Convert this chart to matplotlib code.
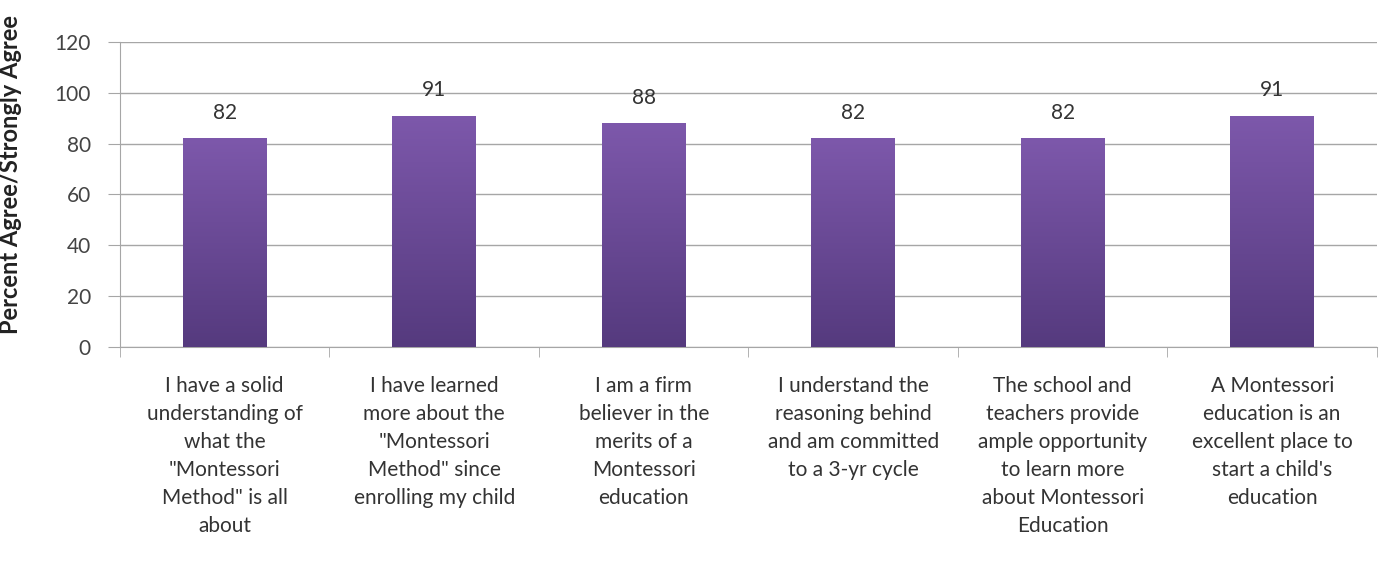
import numpy as np
import matplotlib
matplotlib.use('Agg')
import matplotlib.pyplot as plt
from matplotlib.colors import LinearSegmentedColormap

categories = [
    'I have a solid\nunderstanding of\nwhat the\n"Montessori\nMethod" is all\nabout',
    'I have learned\nmore about the\n"Montessori\nMethod" since\nenrolling my child',
    'I am a firm\nbeliever in the\nmerits of a\nMontessori\neducation',
    'I understand the\nreasoning behind\nand am committed\nto a 3-yr cycle',
    'The school and\nteachers provide\nample opportunity\nto learn more\nabout Montessori\nEducation',
    'A Montessori\neducation is an\nexcellent place to\nstart a child\'s\neducation',
]
values = [82, 91, 88, 82, 82, 91]
yticks = [0, 20, 40, 60, 80, 100, 120]

plt.rcParams['font.family'] = ['Lato', 'DejaVu Sans']

fig = plt.figure(figsize=(13.79, 5.65), dpi=100)
ax = fig.add_axes([0.087, 0.386, 0.9115, 0.54])

x = np.arange(len(values))
bars = ax.bar(x, values, width=0.4, color='#6a4a96', zorder=2)

# vertical gradient inside each bar
cmap = LinearSegmentedColormap.from_list('purp', ['#553a7e', '#7d58ab'])
grad = np.linspace(0, 1, 256).reshape(-1, 1)
for b in bars:
    bx, by = b.get_x(), b.get_y()
    w, h = b.get_width(), b.get_height()
    im = ax.imshow(grad, cmap=cmap, origin='lower', aspect='auto',
                   extent=[bx, bx + w, by, by + h], zorder=3)
    im.set_clip_path(b)

for xi, v in zip(x, values):
    ax.text(xi, v + 6, str(v), ha='center', va='bottom', fontsize=15, color='#333333')

ax.set_xlim(-0.5, len(values) - 0.5)
ax.set_ylim(0, 120)
ax.set_yticks(yticks)
ax.yaxis.grid(True, color='#a6a6a6', linewidth=1, zorder=0)
ax.set_axisbelow(True)

ax.set_xticks(x)
ax.set_xticklabels(categories, fontsize=15, linespacing=1.5, color='#333333')
ax.set_xticks(np.arange(len(values) + 1) - 0.5, minor=True)
ax.tick_params(axis='x', which='major', length=0, pad=21)
ax.tick_params(axis='x', which='minor', length=7, color='#a6a6a6')
ax.tick_params(axis='y', length=9, color='#a6a6a6', labelsize=15, labelcolor='#444444', pad=12)

for s in ['top', 'right']:
    ax.spines[s].set_visible(False)
for s in ['left', 'bottom']:
    ax.spines[s].set_color('#a6a6a6')

ax.set_ylabel('Percent Agree/Strongly Agree', fontsize=17, fontweight='bold', color='#222222')
ax.yaxis.set_label_coords(-0.078, 0.565)

fig.savefig('out.png', dpi=100)
